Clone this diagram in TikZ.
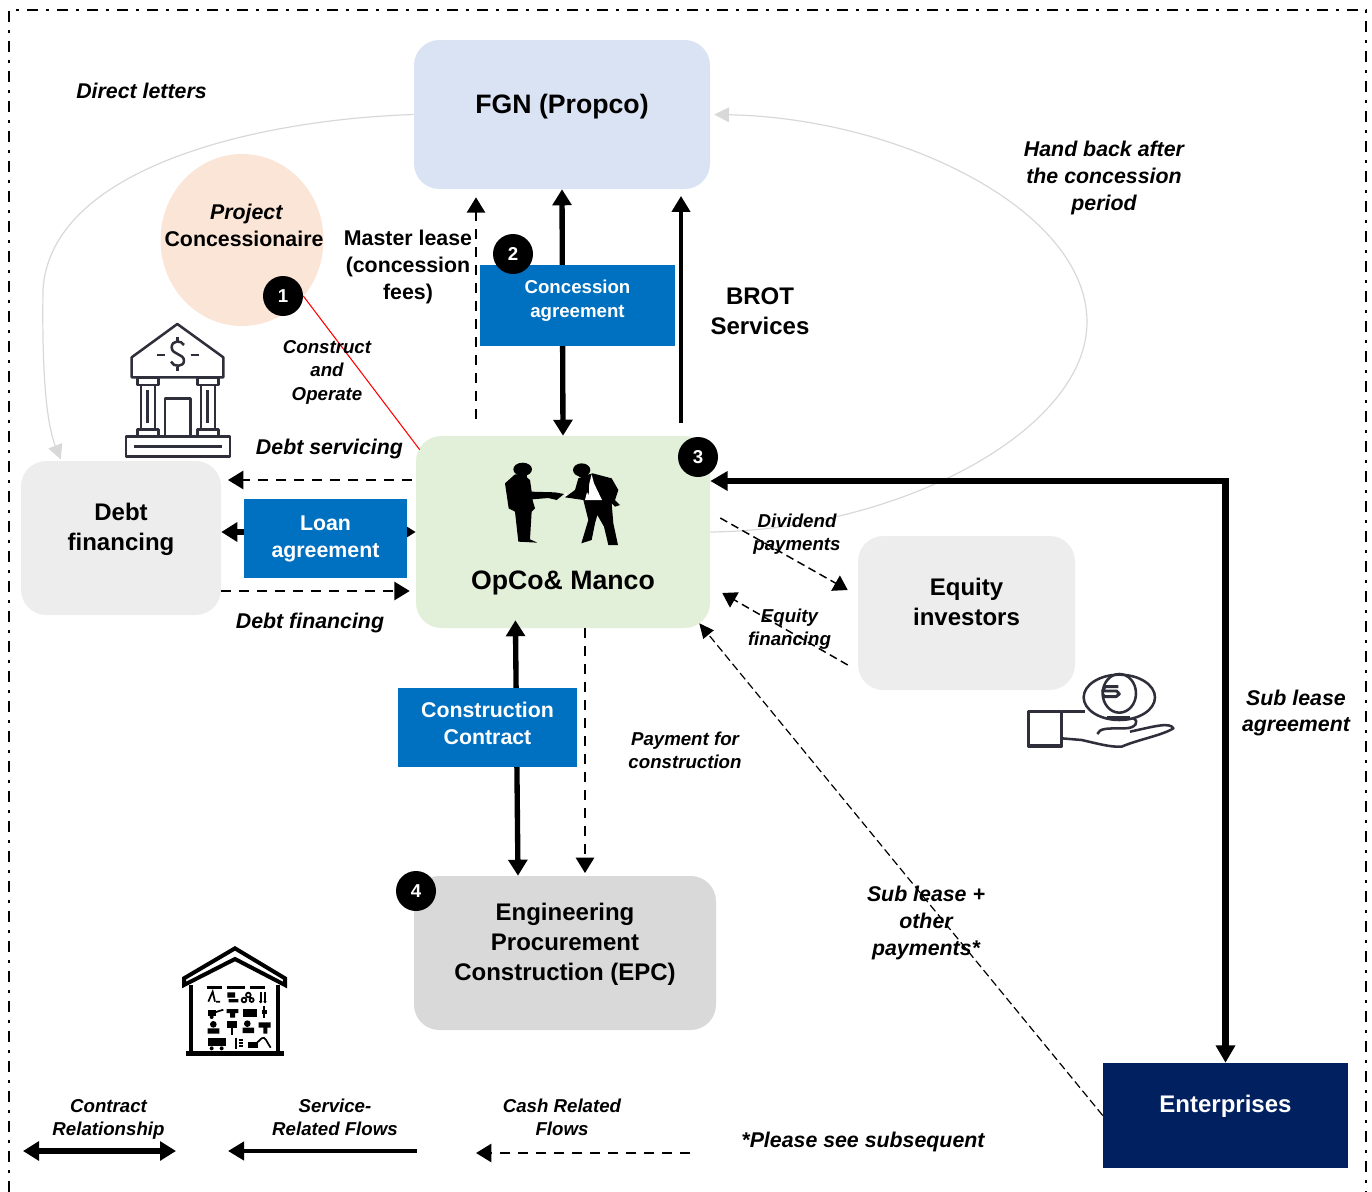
\documentclass[tikz,border=0pt]{standalone}
\usepackage{fontspec}
\setmainfont{Liberation Sans}
\usetikzlibrary{arrows.meta}
\definecolor{cFgn}{HTML}{DAE3F3}
\definecolor{cOp}{HTML}{E2F0D9}
\definecolor{cGrey}{HTML}{EDEDED}
\definecolor{cEpc}{HTML}{D9D9D9}
\definecolor{cBlue}{HTML}{0070C0}
\definecolor{cNavy}{HTML}{002060}
\definecolor{cPeach}{HTML}{FBE5D6}
\definecolor{cIcon}{HTML}{2F2F3B}
\definecolor{cCurve}{HTML}{D8D8D8}
\tikzset{
  fbig/.style={font=\bfseries\fontsize{20}{24}\selectfont},
  fmid/.style={font=\bfseries\fontsize{18}{22.5}\selectfont},
  fsm/.style={font=\bfseries\fontsize{16}{20.2}\selectfont},
  fxs/.style={font=\bfseries\fontsize{14}{17.6}\selectfont},
  ism/.style={font=\bfseries\itshape\fontsize{16}{20}\selectfont},
  ixs/.style={font=\bfseries\itshape\fontsize{14}{17.6}\selectfont},
  lbl/.style={align=center,inner sep=0pt,text=black},
  roundbox/.style 2 args={rectangle,rounded corners=19pt,minimum width=#1*.75pt,minimum height=#2*.75pt,inner sep=0pt,align=center},
  bluebox/.style 2 args={rectangle,fill=cBlue,text=white,minimum width=#1*.75pt,minimum height=#2*.75pt,inner sep=0pt,align=center},
  badge/.style={circle,fill=black,text=white,minimum size=30pt,inner sep=0pt,font=\bfseries\fontsize{14}{14}\selectfont},
  dashflow/.style={line width=1.9pt,dash pattern=on 7.5pt off 6pt,-{Triangle[length=11.5pt,width=13.5pt]}},
  thinflow/.style={line width=1.1pt,dash pattern=on 6pt off 3.5pt,-{Triangle[length=10.5pt,width=13pt]}},
  solidflow/.style={line width=3pt,-{Triangle[length=12pt,width=13.5pt]}},
  contract/.style={line width=4pt,{Triangle[length=12pt,width=14pt]}-{Triangle[length=12pt,width=14pt]}},
  lightcurve/.style={draw=cCurve,line width=.9pt,-{Triangle[length=11pt,width=11pt,fill=cCurve]}},
  icon/.style={draw=cIcon,line width=1.9pt,line join=round},
}
\begin{document}
\begin{tikzpicture}[x=.75pt,y=-.75pt]
\path[use as bounding box] (0,0) rectangle (1372,1192);
\draw[line width=1.9pt,dash pattern=on 8.25pt off 6pt on 2.25pt off 6pt]
  (9,1192) -- (9,10) -- (1366,10) -- (1366,1192);

% containers
\node[roundbox={296}{149},fill=cFgn,fbig,text depth=16.5pt] (fgn) at (562,114.5) {FGN (Propco)};
\fill[cPeach] (242,240) ellipse [x radius=81.5,y radius=86];
\node[roundbox={294}{192},fill=cOp] (opco) at (563,532) {};
\node[roundbox={200}{154},fill=cGrey,fmid,text depth=17.5pt] (debt) at (121,538) {Debt\\financing};
\node[roundbox={217}{154},fill=cGrey,fmid,text depth=16.5pt] (equity) at (966.5,613) {Equity\\investors};
\node[roundbox={302}{154},fill=cEpc,fmid,text depth=17.5pt] (epc) at (565,953) {Engineering\\Procurement\\Construction (EPC)};
\node[rectangle,fill=cNavy,text=white,minimum width=183.75pt,minimum height=78.75pt,inner sep=0pt,fmid,text depth=17.5pt] (ent) at (1225.5,1115.5) {Enterprises};

% helper positions
\coordinate (xa) at (476,0);
\coordinate (xb) at (681,0);
\coordinate (xc) at (515.5,0);
\coordinate (xd) at (518,0);
\coordinate (xp) at (585,0);
\coordinate (ya) at (0,480);
\coordinate (yb) at (0,591);
\coordinate (yc) at (0,481);

% grey curves
\draw[lightcurve] (fgn.west) .. controls (250,120) and (50,170) .. (43,290)
  .. controls (42,360) and (45,420) .. ([xshift=30pt,yshift=1pt]debt.north west);
\draw[lightcurve] (opco.east) .. controls (900,530) and (1087,430) .. (1087,322)
  .. controls (1087,210) and (900,118) .. ([xshift=3pt]fgn.east);

% flows
\draw[dashflow,shorten <=12.75pt,shorten >=6pt] (xa |- opco.north) -- (xa |- fgn.south);
\draw[contract] (fgn.south) -- (opco.north);
\draw[solidflow,shorten <=9.5pt,shorten >=5pt] (xb |- opco.north) -- (xb |- fgn.south);
\draw[dashflow,shorten <=3pt,shorten >=5pt] (opco.west |- ya) -- (debt.east |- ya);
\draw[contract] (debt.east |- opco.west) -- (opco.west);
\draw[dashflow,shorten >=4.5pt] (debt.east |- yb) -- (opco.west |- yb);
\draw[contract,shorten <=-6pt] (xc |- opco.south) -- (xd |- epc.north);
\draw[dashflow,shorten >=2pt] (xp |- opco.south) -- (xp |- epc.north);
\draw[line width=4.6pt,{Triangle[length=13pt,width=14pt]}-{Triangle[length=13pt,width=14pt]}]
  (ent.north) |- (opco.east |- yc);
\draw[thinflow] ([xshift=7.5pt,yshift=10.5pt]opco.east) -- ([xshift=-7.5pt,yshift=17.25pt]equity.west);
\draw[thinflow] ([xshift=-7.5pt,yshift=-39pt]equity.west) -- ([xshift=9pt,yshift=-45.75pt]opco.east);
\draw[line width=.9pt,dash pattern=on 6pt off 3pt,-{Triangle[length=11pt,width=10pt]}]
  (ent.west) -- ([xshift=-8.25pt,yshift=3.75pt]opco.south east);

% blue boxes
\node[bluebox={195}{81},fxs,text depth=12.5pt] (ca) at (577.5,305.5) {\strut Concession\\\strut agreement};
\node[bluebox={163}{79},fsm] (la) at (325.5,538.5) {Loan\\agreement};
\node[bluebox={179}{79},fsm,text depth=7pt] (cc) at (487.5,727.5) {Construction\\Contract};

% badges and red link
\node[badge] (b1) at (283,296) {1};
\draw[red,line width=.8pt] (b1.east) -- ([xshift=3pt,yshift=-10.5pt]opco.north west);
\node[badge] (b2) at (513,254) {2};
\node[badge] (b3) at (698,457) {3};
\node[badge] (b4) at (416,891) {4};

% labels
\node[lbl,fbig] (opl) at (563,583) {OpCo\& Manco};
\node[lbl,ism] (dl) at (141.5,91) {Direct letters};
\node[lbl,ism] (hb) at (1104,178) {Hand back after\\the concession\\period};
\node[lbl,fsm] (pc) at (244,225) {\hspace*{4pt}\textit{Project}\\Concessionaire};
\node[lbl,fsm] (ml) at (408,267) {Master lease\\(concession\\fees)};
\node[lbl,fmid] (br) at (760,311) {BROT\\Services};
\node[lbl,ixs] (co) at (327,372) {Construct\\and\\Operate};
\node[lbl,ism] (ds) at (329.5,449) {Debt servicing};
\node[lbl,ism] (df) at (310,623) {Debt financing};
\node[lbl,ixs] (dp) at (797,534) {Dividend\\payments};
\node[lbl,ixs] (ef) at (789.5,629) {Equity\\financing};
\node[lbl,ixs] (pf) at (685,750.5) {Payment for\\construction};
\node[lbl,ism] (sl) at (926,923) {Sub lease +\\other\\payments*};
\node[lbl,ism] (sa) at (1296,713) {Sub lease\\agreement};
\node[lbl,ixs] (lc) at (108.5,1119.5) {Contract\\Relationship};
\node[lbl,ixs] (ls) at (335,1117.5) {Service-\\Related Flows};
\node[lbl,ixs] (lf) at (562,1117.5) {Cash Related\\Flows};
\node[lbl,ism] (pl) at (863,1142) {*Please see subsequent};

% legend
\coordinate (c1) at (23,1151); \coordinate (c2) at (176,1151);
\coordinate (s1) at (417,1151); \coordinate (s2) at (228,1151);
\coordinate (f1) at (690,1153); \coordinate (f2) at (476,1153);
\draw[contract] (c1) -- (c2);
\draw[solidflow] (s1) -- (s2);
\draw[dashflow] (f1) -- (f2);

% bank icon
\begin{scope}[shift={(100,140)},scale=1/3,icon]
 \draw (95,712) -- (95,652) -- (232,552) -- (370,652) -- (370,712) -- cycle;
 \draw (170,645) -- (195,645) (272,645) -- (298,645);
 \draw (252,615) .. controls (245,600) and (215,600) .. (215,622) .. controls (215,645) and (252,640) .. (252,662) .. controls (252,682) and (220,682) .. (213,665);
 \draw (232,590) -- (232,603) (232,680) -- (232,693);
 \draw (113,712) rectangle (175,735) (293,712) rectangle (355,735);
 \draw (123,735) rectangle (165,868) (303,735) rectangle (345,868);
 \draw (142,750) -- (142,850) (322,750) -- (322,850);
 \draw (113,868) rectangle (175,890) (293,868) rectangle (355,890);
 \draw (195,890) -- (195,775) -- (272,775) -- (272,890);
 \draw (78,890) rectangle (390,950);
 \draw (103,920) -- (365,920);
\end{scope}

% handshake
\begin{scope}[shift={(480,440)},scale=1/3]
 \fill[black] (128,88) ellipse [x radius=28,y radius=20];
 \fill[black] (115,95) rectangle (140,110);
 \fill[black] (105,103) -- (75,130) -- (86,205) -- (105,215) -- (115,305) -- (172,308) -- (150,298) -- (155,215) -- (165,205) -- (157,178) -- (205,174) -- (230,180) -- (252,162) -- (225,157) -- (155,155) -- (150,120) -- (130,103) -- cycle;
 \fill[black] (305,90) ellipse [x radius=26,y radius=20];
 \fill[black] (298,95) rectangle (325,112);
 \fill[black] (338,100) -- (395,115) -- (415,150) -- (405,180) -- (420,195) -- (405,200) -- (395,190) -- (400,250) -- (414,315) -- (385,315) -- (372,260) -- (352,225) -- (345,250) -- (335,300) -- (304,310) -- (325,240) -- (310,180) -- (255,172) -- (285,150) -- (295,115) -- (320,105) -- cycle;
 \fill[white] (335,103) -- (315,180) -- (366,180) -- (342,130) -- cycle;
 \fill[black] (318,112) -- (328,112) -- (326,165) -- (318,150) -- cycle;
 \fill[white] (255,158) rectangle (262,168);
\end{scope}

% hand icon
\begin{scope}[shift={(1010,660)},scale=1/3,icon]
 \draw (328,112) ellipse [x radius=107,y radius=68];
 \draw (328,100) ellipse [x radius=50,y radius=58];
 \draw[line width=2.2pt] (325,80) -- (285,80) -- (278,93) -- (320,93) -- (328,102) -- (318,110) -- (285,110) -- (277,102);
 \draw[line width=2.5pt] (55,155) rectangle (155,258);
 \draw (155,155) -- (225,155);
 \draw[line width=2.3pt] (290,172) -- (360,172);
 \draw (155,235) -- (215,240) .. controls (260,250) and (300,262) .. (335,260) .. controls (380,240) and (460,225) .. (490,205) .. controls (480,185) and (430,200) .. (360,215);
 \draw (262,222) .. controls (270,205) and (285,205) .. (345,205) .. controls (375,205) and (390,185) .. (370,175);
\end{scope}

% construction house icon
\begin{scope}[shift={(170,935)},scale=1/3]
 \draw[line width=3pt,line join=miter] (42,130) -- (195,40) -- (345,130) -- (345,150) -- (195,72) -- (42,150) -- cycle;
 \draw[line width=3pt] (62,150) -- (62,355) (325,150) -- (325,355);
 \draw[line width=3.4pt] (48,356) -- (342,356);
 \draw[line width=2pt] (110,157) -- (155,157) (170,157) -- (225,157) (240,157) -- (285,157);
 \begin{scope}[black,line width=1.3pt]
  \draw (115,200) -- (128,170) -- (135,200) (138,200) -- (150,200);
  \fill (172,172) rectangle (195,188) (176,192) rectangle (205,202);
  \draw (222,195) circle [radius=7] (235,180) circle [radius=7] (245,195) circle [radius=6];
  \draw (272,170) -- (272,200) (285,170) -- (285,200); \fill (272,200) circle [radius=5] (285,200) circle [radius=5];
  \fill (113,224) rectangle (138,242); \draw (135,232) -- (160,224); \fill (125,246) circle [radius=6];
  \fill (170,222) rectangle (205,234) (180,234) rectangle (195,248);
  \fill (220,222) rectangle (260,246);
  \draw (283,212) -- (283,250); \fill (276,224) rectangle (290,236);
  \fill (130,268) circle [radius=10] (113,280) rectangle (148,296);
  \fill (170,258) rectangle (200,280); \draw (185,278) -- (185,300);
  \fill (218,278) rectangle (252,294) (232,266) circle [radius=10];
  \fill (266,262) rectangle (302,278) (280,276) rectangle (292,296);
  \fill (113,310) rectangle (168,334); \fill (125,340) circle [radius=6] (155,340) circle [radius=6];
  \draw (197,308) -- (197,342); \draw (208,316) -- (220,316) (208,325) -- (220,325) (208,334) -- (220,334);
  \fill (235,320) rectangle (265,340); \draw (262,322) -- (275,310) .. controls (285,300) and (292,325) .. (302,338);
 \end{scope}
\end{scope}
\end{tikzpicture}
\end{document}
